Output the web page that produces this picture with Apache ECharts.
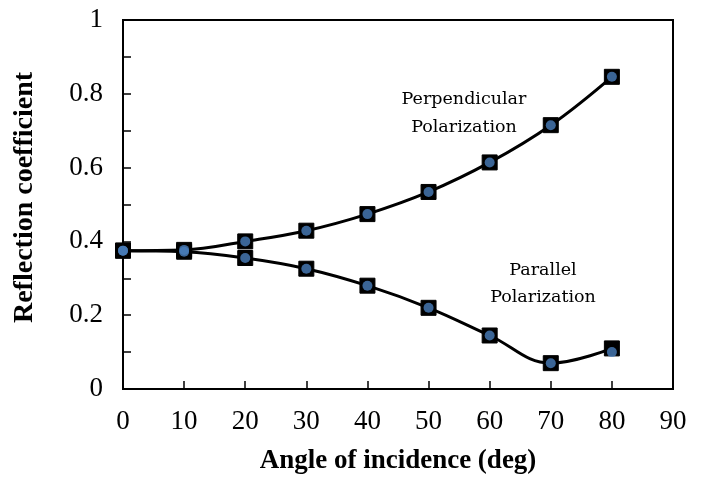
<!DOCTYPE html>
<html><head><meta charset="utf-8">
<script src="https://cdn.jsdelivr.net/npm/echarts@6/dist/echarts.min.js"></script>
<style>html,body{margin:0;padding:0;background:#fff}#c{width:704px;height:480px}</style>
</head><body><div id="c"></div>
<script>
const angles = [0, 10, 20, 30, 40, 50, 60, 70, 80];
const perpTheory = [0.375, 0.377, 0.400, 0.429, 0.474, 0.534, 0.614, 0.715, 0.846];
const perpMeasured = [0.375, 0.377, 0.400, 0.429, 0.474, 0.534, 0.614, 0.715, 0.846];
const parTheory = [0.375, 0.372, 0.355, 0.326, 0.280, 0.220, 0.145, 0.070, 0.110];
const parMeasured = [0.375, 0.372, 0.355, 0.326, 0.280, 0.220, 0.145, 0.070, 0.100];
const yLabels = ['0', '0.2', '0.4', '0.6', '0.8', '1'];

const pairs = (xs, ys) => xs.map((x, i) => [x, ys[i]]);
const font = '"Liberation Serif", "DejaVu Serif", serif';
const noteFont = '17.5px "DejaVu Serif", serif';

const chart = echarts.init(document.getElementById('c'));
chart.setOption({
  animation: false,
  textStyle: { fontFamily: font },
  grid: { left: 123, right: 31, top: 20, bottom: 89, show: true, borderColor: '#000', borderWidth: 2 },
  xAxis: {
    type: 'value', min: 0, max: 90, interval: 10,
    name: 'Angle of incidence (deg)', nameLocation: 'middle', nameGap: 59,
    nameTextStyle: { fontFamily: font, fontWeight: 'bold', fontSize: 27, color: '#000' },
    axisLine: { show: true, lineStyle: { color: '#000', width: 2 } },
    axisTick: { show: true, inside: true, length: 8, lineStyle: { color: '#000', width: 1.5 } },
    axisLabel: { fontFamily: font, fontSize: 27, color: '#000', margin: 19 },
    splitLine: { show: false }
  },
  yAxis: {
    type: 'value', min: 0, max: 1, interval: 0.1,
    name: 'Reflection coefficient', nameLocation: 'middle', nameGap: 84,
    nameTextStyle: { fontFamily: font, fontWeight: 'bold', fontSize: 28, color: '#000', padding: [0, 0, 0, 14] },
    axisLine: { show: true, lineStyle: { color: '#000', width: 2 } },
    axisTick: { show: true, inside: true, length: 8, lineStyle: { color: '#000', width: 1.5 } },
    axisLabel: {
      fontFamily: font, fontSize: 27, color: '#000', margin: 20,
      formatter: v => {
        const k = Math.round(v * 10);
        return k % 2 === 0 ? yLabels[k / 2] : '';
      }
    },
    splitLine: { show: false }
  },
  series: [
    { type: 'line', data: pairs(angles, perpTheory), smooth: 0.4, symbol: 'rect', symbolSize: 15,
      lineStyle: { color: '#000', width: 3 }, itemStyle: { color: '#000', borderColor: '#000' }, z: 2 },
    { type: 'line', data: pairs(angles, parTheory), smooth: 0.4, symbol: 'rect', symbolSize: 15,
      lineStyle: { color: '#000', width: 3 }, itemStyle: { color: '#000', borderColor: '#000' }, z: 2 },
    { type: 'scatter', data: pairs(angles, perpMeasured), symbol: 'circle', symbolSize: 10,
      itemStyle: { color: '#4a7ebb' }, z: 3 },
    { type: 'scatter', data: pairs(angles, parMeasured), symbol: 'circle', symbolSize: 10,
      itemStyle: { color: '#4a7ebb' }, z: 3 }
  ],
  graphic: [
    { type: 'text', x: 464, y: 99, style: { text: 'Perpendicular', font: noteFont, fill: '#000', textAlign: 'center', textVerticalAlign: 'middle' } },
    { type: 'text', x: 464, y: 127, style: { text: 'Polarization', font: noteFont, fill: '#000', textAlign: 'center', textVerticalAlign: 'middle' } },
    { type: 'text', x: 543, y: 270, style: { text: 'Parallel', font: noteFont, fill: '#000', textAlign: 'center', textVerticalAlign: 'middle' } },
    { type: 'text', x: 543, y: 297, style: { text: 'Polarization', font: noteFont, fill: '#000', textAlign: 'center', textVerticalAlign: 'middle' } }
  ]
});
</script></body></html>
